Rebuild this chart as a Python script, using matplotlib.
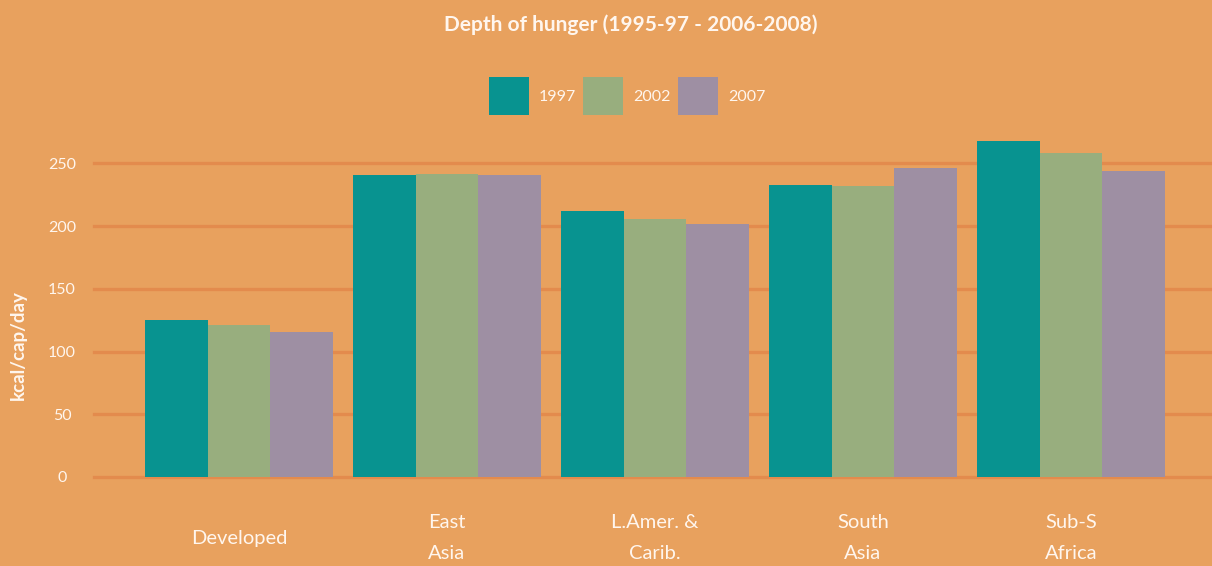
import numpy as np
import matplotlib.pyplot as plt
from matplotlib.patches import Patch

plt.rcParams['font.family'] = ['Lato', 'DejaVu Sans']

regions = ["Developed", "East\nAsia", "L.Amer. &\nCarib.", "South\nAsia", "Sub-S\nAfrica"]
years = ["1997", "2002", "2007"]
v1997 = [125, 241, 212, 233, 268]
v2002 = [121, 242, 206, 232, 258]
v2007 = [116, 241, 202, 246, 244]
yticks = [0, 50, 100, 150, 200, 250]

bg = "#E8A15E"
grid = "#E38B4D"
txt = "#FFF6EE"
colors = ["#089390", "#98AE7E", "#9E8FA3"]

fig = plt.figure(figsize=(12.12, 5.66), dpi=100, facecolor=bg)
ax = fig.add_axes([94/1212, 89/566, 1118/1212, 347/566], facecolor=bg)

x = np.arange(len(regions))
w = 0.3
for i, vals in enumerate([v1997, v2002, v2007]):
    ax.bar(x + (i - 1) * w, vals, w, color=colors[i], zorder=3, linewidth=0)

ax.set_xlim(-0.697, 4.678)
ax.set_ylim(0, 276.7)
ax.set_yticks(yticks)
for t in yticks:
    ax.axhline(t, color=grid, lw=2.4, zorder=1, clip_on=False)
for s in ax.spines.values():
    s.set_visible(False)

ax.tick_params(axis='y', length=0, pad=23, labelsize=11.5, labelcolor=txt)
for lab in ax.get_yticklabels():
    lab.set_ha('center')
ax.set_xticks(x)
ax.set_xticklabels(regions, linespacing=1.95)
ax.tick_params(axis='x', length=0, pad=44, labelsize=14.5, labelcolor=txt)
for lab in ax.get_xticklabels():
    lab.set_va('center')

fig.text(18/1212, 1 - 345/566, "kcal/cap/day", rotation=90, ha='center', va='center',
         color=txt, fontsize=13.5, fontweight='bold')
fig.text(631/1212, 1 - 25/566, "Depth of hunger (1995-97 - 2006-2008)", ha='center', va='center',
         color=txt, fontsize=15, fontweight='bold')

handles = [Patch(facecolor=c, edgecolor='none') for c in colors]
leg = fig.legend(handles, years, loc='center', bbox_to_anchor=(627/1212, 1 - 96/566), ncol=3,
                 frameon=False, fontsize=11.5, handlelength=2.5, handleheight=3.3,
                 handletextpad=0.6, columnspacing=0.5, borderpad=0)
for t in leg.get_texts():
    t.set_color(txt)

fig.savefig("out.png", dpi=100, facecolor=bg)
